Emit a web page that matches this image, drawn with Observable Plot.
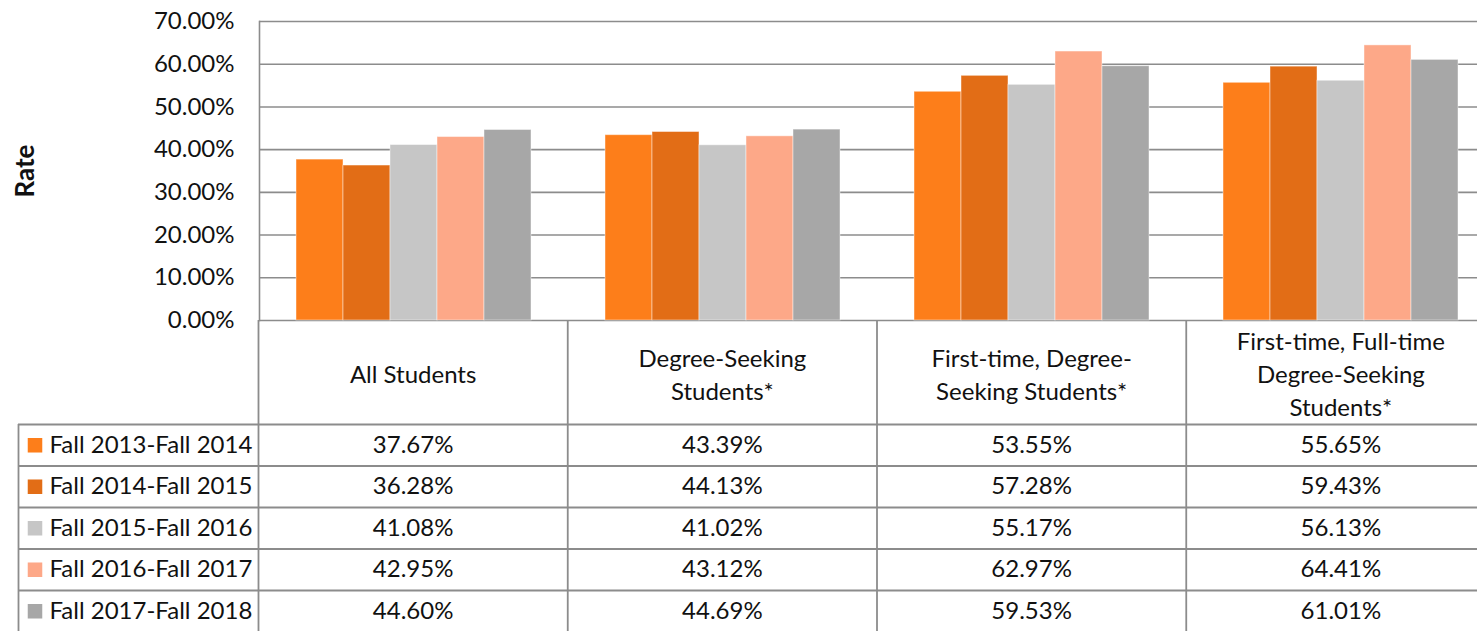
<!DOCTYPE html>
<html><head><meta charset="utf-8">
<script src="https://cdn.jsdelivr.net/npm/d3@7"></script>
<script src="https://cdn.jsdelivr.net/npm/@observablehq/plot@0.6"></script>
<style>
html,body{margin:0;padding:0;background:#fff;overflow:hidden;width:1477px;height:631px}
#wrap{position:relative;width:1495px;height:631px}
#wrap svg{position:absolute;left:0;max-width:none}
#wrap [aria-label="y-axis label"]{font-weight:bold;font-size:26px}
</style></head><body><div id="wrap"></div>
<script>
const categories = ["All Students", "Degree-Seeking Students*", "First-time, Degree-Seeking Students*", "First-time, Full-time Degree-Seeking Students*"];
const categoryLabels = ["All Students", "Degree-Seeking\nStudents*", "First-time, Degree-\nSeeking Students*", "First-time, Full-time\nDegree-Seeking\nStudents*"];
const series = ["Fall 2013-Fall 2014", "Fall 2014-Fall 2015", "Fall 2015-Fall 2016", "Fall 2016-Fall 2017", "Fall 2017-Fall 2018"];
const colors = ["#FD7E1A", "#E26D16", "#C6C6C6", "#FDA888", "#A7A7A7"];
const fall2013 = [0.3767, 0.4339, 0.5355, 0.5565];
const fall2014 = [0.3628, 0.4413, 0.5728, 0.5943];
const fall2015 = [0.4108, 0.4102, 0.5517, 0.5613];
const fall2016 = [0.4295, 0.4312, 0.6297, 0.6441];
const fall2017 = [0.4460, 0.4469, 0.5953, 0.6101];
const yTicks = [0, 0.1, 0.2, 0.3, 0.4, 0.5, 0.6, 0.7];

const seriesValues = [fall2013, fall2014, fall2015, fall2016, fall2017];
const rows = series.flatMap((s, si) => categories.map((c, ci) => ({series: s, category: c, value: seriesValues[si][ci], si, ci})));
const pct = d3.format(".2%");
const gridColor = "#8c8c8c";
const font = "Lato, 'Open Sans', sans-serif";

const chart = Plot.plot({
  width: 1495, height: 320, marginTop: 21, marginBottom: 0, marginLeft: 258, marginRight: 0,
  style: {fontFamily: font, fontSize: "24px", color: "#111", overflow: "visible", maxWidth: "none", background: "transparent"},
  fx: {domain: categories, padding: 0, axis: null},
  x: {domain: series, paddingInner: 0, paddingOuter: 0.75, axis: null},
  y: {domain: [0, 0.7], ticks: yTicks, tickFormat: pct, tickSize: 0, tickPadding: 25, label: "Rate", labelAnchor: "center", labelOffset: 244, labelArrow: false},
  color: {domain: series, range: colors},
  marks: [
    Plot.ruleY(yTicks, {stroke: gridColor, strokeWidth: 1.6}),
    Plot.barY(rows, {fx: "category", x: "series", y: "value", fill: "series", stroke: "#fff", strokeOpacity: 0.45, strokeWidth: 1}),
    Plot.frame({anchor: "left", fx: () => categories[0], stroke: gridColor, strokeWidth: 1.6})
  ]
});
chart.style.top = "0px";

const LW = 240 / 309.25;      // legend column width, in category-column units
const HEADER = 104 / 41.5;    // header row height, in table-row units
const tbl = Plot.plot({
  width: 1495, height: 312, marginTop: 0, marginBottom: 0, marginLeft: 18, marginRight: 0,
  style: {fontFamily: font, fontSize: "24px", color: "#111", overflow: "visible", maxWidth: "none", background: "transparent"},
  x: {domain: [-LW, categories.length], axis: null},
  y: {domain: [-HEADER, 208 / 41.5], reverse: true, axis: null},
  color: {domain: series, range: colors},
  marks: [
    Plot.ruleY(d3.range(0, series.length + 1), {x1: -LW, x2: categories.length, stroke: gridColor, strokeWidth: 1.8}),
    Plot.ruleX(d3.range(0, categories.length + 1), {y1: -HEADER, y2: series.length, stroke: gridColor, strokeWidth: 1.8}),
    Plot.ruleX([-LW], {y1: 0, y2: series.length, stroke: gridColor, strokeWidth: 1.8}),
    Plot.text(categoryLabels, {x: (d, i) => i + 0.5, y: -HEADER / 2, text: d => d, lineHeight: 1.38, fill: "#111"}),
    Plot.text(rows, {x: d => d.ci + 0.5, y: d => d.si + 0.5, text: d => pct(d.value), fill: "#111"}),
    Plot.dot(series, {frameAnchor: "left", y: (d, i) => i + 0.5, fill: d => d, symbol: "square", r: 8.2, dx: 16.5}),
    Plot.text(series, {frameAnchor: "left", y: (d, i) => i + 0.5, text: d => d, dx: 31, textAnchor: "start", fill: "#111"})
  ]
});
tbl.style.top = "320px";

const wrap = document.getElementById("wrap");
wrap.appendChild(chart);
wrap.appendChild(tbl);
</script>
</body></html>
